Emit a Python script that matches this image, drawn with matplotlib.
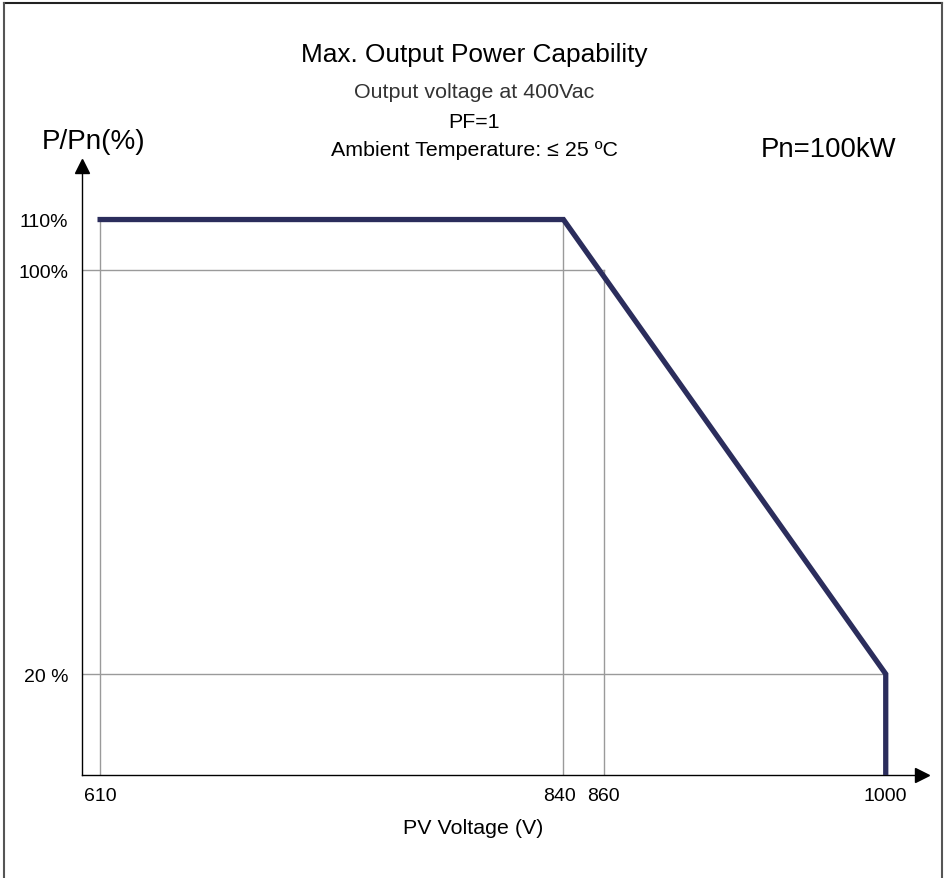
import matplotlib
matplotlib.use("Agg")
import matplotlib.pyplot as plt
from matplotlib.lines import Line2D
from matplotlib.transforms import ScaledTranslation

plt.rcParams['font.family'] = ['Liberation Sans', 'DejaVu Sans']

# Data
curve_v = [610, 840, 1000, 1000]
curve_p = [110, 110, 20, 0]
x_ticks = [610, 840, 860, 1000]
x_tick_labels = ["610", "840", "860", "1000"]
y_ticks = [20, 100, 110]
y_tick_labels = ["20 %", "100%", "110%"]
title = "Max. Output Power Capability"
subtitles = ["Output voltage at 400Vac", "PF=1", "Ambient Temperature: \u2264 25 \u00baC"]

W, H = 946, 879
fig = plt.figure(figsize=(W / 100, H / 100), dpi=100)
ax = fig.add_axes([82 / W, 1 - 776 / H, (922 - 82) / W, (776 - 167) / H])
ax.set_xlim(601, 1018)
ax.set_ylim(0, 120.6)

grid_c = "#9a9a9a"
ax.plot([610, 610], [0, 110], color=grid_c, lw=1)
ax.plot([840, 840], [0, 110], color=grid_c, lw=1)
ax.plot([860, 860], [0, 100], color=grid_c, lw=1)
ax.plot([601, 860], [100, 100], color=grid_c, lw=1)
ax.plot([601, 1000], [20, 20], color=grid_c, lw=1)

ax.plot(curve_v, curve_p, color="#2b2d5c", lw=3.8, solid_joinstyle="miter", zorder=3)

for s in ["top", "right"]:
    ax.spines[s].set_visible(False)
for s in ["left", "bottom"]:
    ax.spines[s].set_color("black")
    ax.spines[s].set_linewidth(1)
ax.plot(1, 0, ">k", transform=ax.transAxes, clip_on=False, ms=10)
ax.plot(0, 1, "^k", transform=ax.transAxes, clip_on=False, ms=10)

ax.set_xticks(x_ticks)
ax.set_xticklabels(x_tick_labels)
ax.set_yticks(y_ticks)
ax.set_yticklabels(y_tick_labels)
ax.tick_params(axis="both", length=0, labelsize=14, pad=10)
ax.tick_params(axis="x", pad=9)
# nudge crowded labels apart slightly
for lab in ax.get_xticklabels():
    if lab.get_text() == "840":
        lab.set_transform(lab.get_transform() + ScaledTranslation(-4 / 100, 0, fig.dpi_scale_trans))

fig.text(473 / W, 1 - 829 / H, "PV Voltage (V)", ha="center", va="center", fontsize=15.4)
fig.text(94 / W, 1 - 142 / H, "P/Pn(%)", ha="center", va="center", fontsize=20)
fig.text(829 / W, 1 - 150 / H, "Pn=100kW", ha="center", va="center", fontsize=19.8)
fig.text(474 / W, 1 - 55 / H, title, ha="center", va="center", fontsize=18.9)
ys = [93, 122, 151]
cols = ["#333333", "black", "black"]
for t, y, c in zip(subtitles, ys, cols):
    fig.text(474 / W, 1 - y / H, t, ha="center", va="center", fontsize=15.4, color=c)

# border
bc = "#555555"
fig.add_artist(Line2D([4 / W, 942 / W], [1 - 4 / H, 1 - 4 / H], color="#222222", lw=1.5, transform=fig.transFigure))
fig.add_artist(Line2D([4 / W, 4 / W], [0, 1 - 4 / H], color=bc, lw=1.5, transform=fig.transFigure))
fig.add_artist(Line2D([942 / W, 942 / W], [0, 1 - 4 / H], color=bc, lw=1.5, transform=fig.transFigure))

fig.savefig("out.png", dpi=100)
